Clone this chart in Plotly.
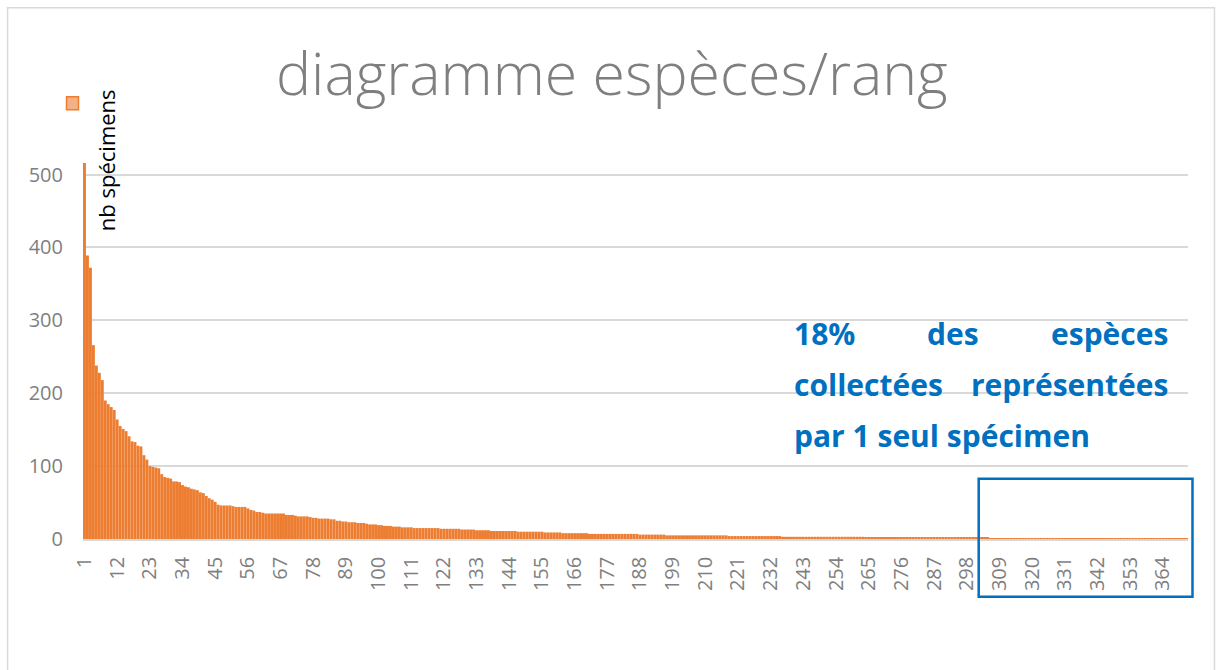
import plotly.graph_objects as go

# Specimen counts per species, ordered by rank (1 = most abundant)
specimens = (
    [516, 389, 372, 266, 238, 228, 218, 190, 185, 181]
    + [177, 164, 155, 151, 148, 141, 134, 133, 128, 127]
    + [115, 109, 100, 99, 98, 97, 89, 85, 84, 83]
    + [79, 79, 78, 74, 72, 71, 69, 68, 67, 64]
    + [63, 59, 56, 54, 51, 47, 46, 46, 46, 46]
    + [45, 44, 44, 44, 44, 42, 40, 39, 37, 37]
    + [36, 35, 35, 35, 35, 35, 35, 35, 33, 33]
    + [33, 32, 31, 31, 31, 31, 30, 29, 29, 28]
    + [28, 28, 28, 27, 27, 25, 25, 24, 24, 23]
    + [23, 23, 22, 22, 22, 21, 20, 20, 20, 19]
    + [19, 18, 18, 18, 17, 17, 17, 16, 16, 16]
    + [16, 15, 15, 15, 15, 15, 15, 15, 15, 15]
    + [14, 14, 14, 14, 14, 14, 14, 13, 13, 13]
    + [13, 13, 12, 12, 12, 12, 12, 11, 11, 11]
    + [11, 11, 11, 11, 11, 11, 10, 10, 10, 10]
    + [10, 10, 10, 10, 10, 9, 9, 9, 9, 9]
    + [9, 8, 8, 8, 8, 8, 8, 8, 8, 8]
    + [7, 7, 7, 7, 7, 7, 7, 7, 7, 7]
    + [7, 7, 7, 7, 7, 7, 7, 6, 6, 6]
    + [6, 6, 6, 6, 6, 6, 5, 5, 5, 5]
    + [5, 5, 5, 5, 5, 5, 5, 5, 5, 5]
    + [5, 5, 5, 5, 5, 5, 5, 4, 4, 4]
    + [4, 4, 4, 4, 4, 4, 4, 4, 4, 4]
    + [4, 4, 4, 4, 4, 3, 3, 3, 3, 3]
    + [3, 3, 3, 3, 3, 3, 3, 3, 3, 3]
    + [3, 3, 3, 3, 3, 3, 3, 3, 3, 3]
    + [3, 3, 3, 2, 2, 2, 2, 2, 2, 2]
    + [2, 2, 2, 2, 2, 2, 2, 2, 2, 2]
    + [2, 2, 2, 2, 2, 2, 2, 2, 2, 2]
    + [2, 2, 2, 2, 2, 2, 2, 2, 2, 2]
    + [2, 2, 2, 2, 2, 1, 1, 1, 1, 1]
    + [1, 1, 1, 1, 1, 1, 1, 1, 1, 1]
    + [1, 1, 1, 1, 1, 1, 1, 1, 1, 1]
    + [1, 1, 1, 1, 1, 1, 1, 1, 1, 1]
    + [1, 1, 1, 1, 1, 1, 1, 1, 1, 1]
    + [1, 1, 1, 1, 1, 1, 1, 1, 1, 1]
    + [1, 1, 1, 1, 1, 1, 1, 1, 1, 1]
    + [1, 1]
)
ranks = list(range(1, len(specimens) + 1))

tick_ranks = [1, 12, 23, 34, 45, 56, 67, 78, 89, 100, 111, 122, 133, 144,
              155, 166, 177, 188, 199, 210, 221, 232, 243, 254, 265, 276,
              287, 298, 309, 320, 331, 342, 353, 364]
y_ticks = [0, 100, 200, 300, 400, 500]

W, H = 1219, 670
L, R, T, B = 82.5, 1188.5, 160.3, 539.2   # plot area edges, pixels


def fx(px):
    return (px - L) / (R - L)


def fy(py):
    return (B - py) / (B - T)


ORANGE = "#ed7d31"
BLUE = "#0070c0"
GREY = "#7f7f7f"
GRID = "#d9d9d9"
FONT = "Open Sans"

fig = go.Figure(
    go.Bar(x=ranks, y=specimens, marker=dict(color=ORANGE, line=dict(width=0)),
           name="nb spécimens")
)

fig.update_layout(
    width=W, height=H,
    margin=dict(l=L, r=W - R, t=T, b=H - B),
    paper_bgcolor="white", plot_bgcolor="white",
    bargap=0.02, showlegend=False,
    font=dict(family=FONT, color=GREY),
)

fig.update_xaxes(
    type="linear", range=[0.5, len(specimens) + 0.5],
    tickmode="array", tickvals=tick_ranks, ticktext=[str(t) for t in tick_ranks],
    tickangle=-90, tickfont=dict(size=20, color=GREY, family=FONT),
    showgrid=False, zeroline=False, showline=True, linecolor=GRID, linewidth=1.5,
    ticks="", ticklabelstandoff=8,
)
fig.update_yaxes(
    range=[0, 520], tickmode="array", tickvals=y_ticks,
    tickfont=dict(size=20, color=GREY, family=FONT),
    showgrid=True, gridcolor=GRID, gridwidth=1.5, zeroline=False, showline=False,
    ticks="", ticklabelstandoff=19,
)

annotations = [
    dict(text="diagramme espèces/rang", x=fx(612), y=fy(72), xanchor="center",
         yanchor="middle", font=dict(size=59, color=GREY, family=FONT, weight=300)),
    dict(text="nb spécimens", x=fx(105), y=fy(160), xanchor="center",
         yanchor="middle", textangle=-90, font=dict(size=22, color="black", family=FONT)),
]
blue_font = dict(size=30, color=BLUE, family=FONT, weight="bold")
blue_lines = [
    ("18%", 792, 334, "left"), ("des", 953, 334, "center"), ("espèces", 1170, 334, "right"),
    ("collectées", 792, 385, "left"), ("représentées", 1170, 385, "right"),
    ("par 1 seul spécimen", 792, 436, "left"),
]
for txt, px, py, anchor in blue_lines:
    annotations.append(dict(text=txt, x=fx(px), y=fy(py), xanchor=anchor,
                            yanchor="middle", font=blue_font))
for a in annotations:
    a.update(xref="paper", yref="paper", showarrow=False)
fig.update_layout(annotations=annotations)

fig.update_layout(shapes=[
    # chart frame
    dict(type="rect", xref="paper", yref="paper", x0=fx(7), x1=fx(1215),
         y0=fy(676), y1=fy(8), line=dict(color=GRID, width=1.5), layer="below"),
    # legend swatch
    dict(type="rect", xref="paper", yref="paper", x0=fx(66), x1=fx(78),
         y0=fy(110), y1=fy(97), fillcolor="#f4b183", line=dict(color=ORANGE, width=1.5)),
    # singleton highlight box
    dict(type="rect", xref="paper", yref="paper", x0=fx(979), x1=fx(1193),
         y0=fy(597), y1=fy(479), line=dict(color=BLUE, width=2.5)),
])

fig.write_html("out.html")
